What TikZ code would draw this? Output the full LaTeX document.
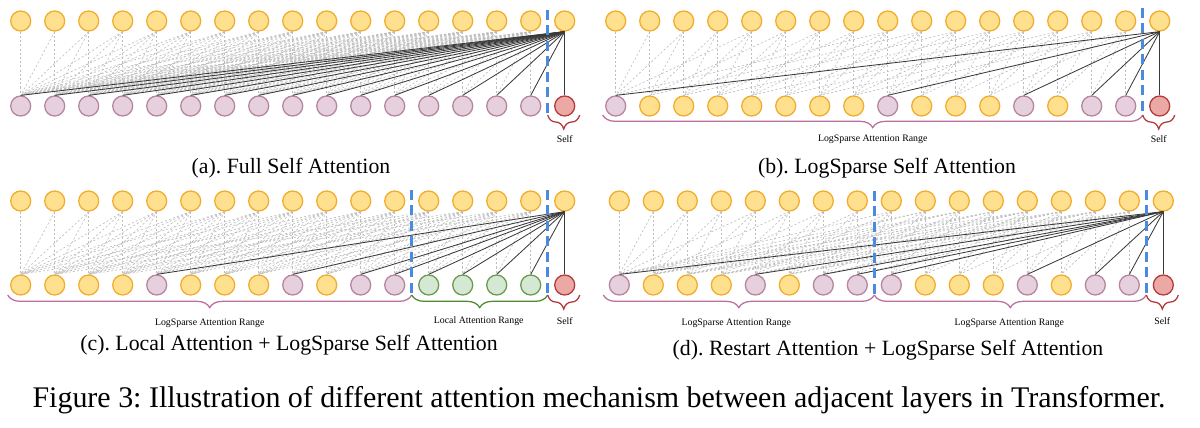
\documentclass[tikz,border=0pt]{standalone}
\usepackage{fontspec}
\setmainfont{Liberation Serif}
\usepackage{xcolor}
\usetikzlibrary{decorations.pathreplacing}
\frenchspacing
\definecolor{tokYellowBg}{HTML}{FFE08F}
\definecolor{tokYellowFg}{HTML}{F0AC2C}
\definecolor{tokPinkBg}{HTML}{E6D0DE}
\definecolor{tokPinkFg}{HTML}{B5849F}
\definecolor{tokGreenBg}{HTML}{D5E8D4}
\definecolor{tokGreenFg}{HTML}{6A9A4E}
\definecolor{tokSelfBg}{HTML}{EBA8A5}
\definecolor{tokSelfFg}{HTML}{B23A3A}
\definecolor{attnLine}{HTML}{3A3A3A}
\definecolor{faintLine}{HTML}{BDBDBD}
\definecolor{cutBlue}{HTML}{4A8BE0}
\definecolor{rangePink}{HTML}{B9709E}
\definecolor{rangeGreen}{HTML}{4F8A34}

\tikzset{
  tok/.style={circle, minimum size=0.5cm, inner sep=0pt, line width=0.9pt},
  tokY/.style={tok, draw=tokYellowFg, fill=tokYellowBg},
  tokP/.style={tok, draw=tokPinkFg, fill=tokPinkBg},
  tokG/.style={tok, draw=tokGreenFg, fill=tokGreenBg},
  tokS/.style={tok, draw=tokSelfFg, fill=tokSelfBg},
  faint/.style={draw=faintLine, line width=0.45pt, dash pattern=on 1.5pt off 1.5pt},
  attn/.style={draw=attnLine, line width=0.6pt},
  cut/.style={draw=cutBlue, line width=2pt, dash pattern=on 7pt off 4pt},
  spanbrace/.style={decorate, decoration={brace, mirror, amplitude=9pt}, line width=0.9pt},
  selfbrace/.style={decorate, decoration={brace, mirror, amplitude=10pt}, line width=0.9pt, draw=tokSelfFg},
  rangelabel/.style={font=\fontsize{7}{8}\selectfont, inner sep=0pt},
  subcap/.style={font=\fontsize{15.5}{18}\selectfont, inner sep=0pt},
  figcap/.style={font=\fontsize{21.3}{24}\selectfont, inner sep=0pt}
}

\begin{document}
\begin{tikzpicture}[x=0.025cm, y=-0.025cm]
\useasboundingbox (0,0) rectangle (1200,427);

% (a) full self attention
\begin{scope}[shift={(20.7,0)}]
  \foreach \i in {0,...,16}
    \node[tokY] (a-t\i) at (34*\i,21) {};
  \foreach \c [count=\i from 0] in {P,P,P,P,P,P,P,P,P,P,P,P,P,P,P,P,S}
    \node[tok\c] (a-b\i) at (34*\i,106) {};
  \foreach \i in {0,...,15}
    \foreach \j in {0,...,\i}
      \draw[faint] (a-t\i.south) -- (a-b\j.north);
  \foreach \j in {0,...,16}
    \draw[attn] (a-t16.south) -- (a-b\j.north);
  \draw[cut] (527,10) -- (527,116);
  \coordinate (a-cut) at (527,115);
  \coordinate (a-end) at (559,115);
  \draw[selfbrace] (a-cut) -- (a-end);
  \node[rangelabel] (a-self) at (544,139) {Self};
\end{scope}

% (b) logsparse
\begin{scope}[shift={(615.7,0)}]
  \foreach \i in {0,...,16}
    \node[tokY] (b-t\i) at (34*\i,21) {};
  \foreach \c [count=\i from 0] in {P,Y,Y,Y,Y,Y,Y,Y,P,Y,Y,Y,P,Y,P,P,S}
    \node[tok\c] (b-b\i) at (34*\i,106) {};
  \foreach \i in {0,...,15}
    \foreach \d in {0,1,2,4,8,16}{
      \pgfmathtruncatemacro\j{\i-\d}
      \ifnum\j>-1 \draw[faint] (b-t\i.south) -- (b-b\j.north);\fi
    }
  \foreach \j in {0,8,12,14,15,16}
    \draw[attn] (b-t16.south) -- (b-b\j.north);
  \draw[cut] (527,8) -- (527,117);
  \coordinate (b-start) at (-13,115);
  \coordinate (b-cut) at (527,115);
  \coordinate (b-end) at (559,115);
  \draw[spanbrace, rangePink] (b-start) -- (b-cut);
  \draw[selfbrace] (b-cut) -- (b-end);
  \node[rangelabel] (b-range) at (257,139) {LogSparse Attention Range};
  \node[rangelabel] (b-self) at (543,139) {Self};
\end{scope}

% (c) local + logsparse
\begin{scope}[shift={(20.7,180)}]
  \foreach \i in {0,...,16}
    \node[tokY] (c-t\i) at (34*\i,21) {};
  \foreach \c [count=\i from 0] in {Y,Y,Y,Y,P,Y,Y,Y,P,Y,P,P,G,G,G,G,S}
    \node[tok\c] (c-b\i) at (34*\i,105) {};
  \foreach \i in {0,...,15}
    \foreach \d in {0,1,2,3,4,5,6,8,12}{
      \pgfmathtruncatemacro\j{\i-\d}
      \ifnum\j>-1 \draw[faint] (c-t\i.south) -- (c-b\j.north);\fi
    }
  \foreach \j in {4,8,10,11,12,13,14,15,16}
    \draw[attn] (c-t16.south) -- (c-b\j.north);
  \draw[cut] (391,10) -- (391,117);
  \draw[cut] (527,10) -- (527,117);
  \coordinate (c-start) at (-13,115);
  \coordinate (c-local) at (391,115);
  \coordinate (c-cut) at (527,115);
  \coordinate (c-end) at (559,115);
  \draw[spanbrace, rangePink] (c-start) -- (c-local);
  \draw[spanbrace, rangeGreen] (c-local) -- (c-cut);
  \draw[selfbrace] (c-cut) -- (c-end);
  \node[rangelabel] (c-range) at (189,143) {LogSparse Attention Range};
  \node[rangelabel] (c-lrange) at (458,141) {Local Attention Range};
  \node[rangelabel] (c-self) at (544,141) {Self};
\end{scope}

% (d) restart + logsparse
\begin{scope}[shift={(619.3,180)}]
  \foreach \i in {0,...,16}
    \node[tokY] (d-t\i) at (34*\i,21) {};
  \foreach \c [count=\i from 0] in {P,Y,Y,Y,P,Y,P,P,P,Y,Y,Y,P,Y,P,P,S}
    \node[tok\c] (d-b\i) at (34*\i,105) {};
  \foreach \i in {0,...,15}
    \foreach \d in {0,1,2,4,8,9,10,12,16}{
      \pgfmathtruncatemacro\j{\i-\d}
      \ifnum\j>-1 \draw[faint] (d-t\i.south) -- (d-b\j.north);\fi
    }
  \foreach \j in {0,4,6,7,8,12,14,15,16}
    \draw[attn] (d-t16.south) -- (d-b\j.north);
  \draw[cut] (255,11) -- (255,115);
  \draw[cut] (527,10) -- (527,117);
  \coordinate (d-start) at (-16,115);
  \coordinate (d-restart) at (255,115);
  \coordinate (d-cut) at (527,115);
  \coordinate (d-end) at (559,115);
  \draw[spanbrace, rangePink] (d-start) -- (d-restart);
  \draw[spanbrace, rangePink] (d-restart) -- (d-cut);
  \draw[selfbrace] (d-cut) -- (d-end);
  \node[rangelabel] (d-range1) at (117,143) {LogSparse Attention Range};
  \node[rangelabel] (d-range2) at (390,143) {LogSparse Attention Range};
  \node[rangelabel] (d-self) at (543,141) {Self};
\end{scope}

% captions
\node[subcap] (cap-a) at (291,168) {(a). Full Self Attention};
\node[subcap] (cap-b) at (887,168) {(b). LogSparse Self Attention};
\node[subcap] (cap-c) at (289,345) {(c). Local Attention + LogSparse Self Attention};
\node[subcap] (cap-d) at (888,350) {(d). Restart Attention + LogSparse Self Attention};
\node[figcap] (cap-fig) at (599,400) {Figure 3: Illustration of different attention mechanism between adjacent layers in Transformer.};
\end{tikzpicture}
\end{document}
